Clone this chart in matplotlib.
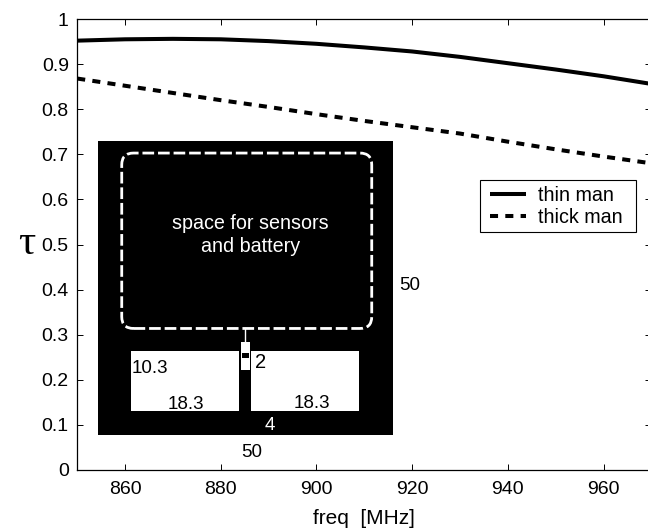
import numpy as np
from matplotlib import pyplot as plt
from matplotlib.patches import Rectangle, FancyBboxPatch

plt.rcParams['font.family'] = ['Liberation Sans', 'DejaVu Sans']

# curves
freq = [850, 860, 870, 880, 890, 900, 910, 920, 930, 940, 950, 960, 970]
thin_man = [0.952, 0.955, 0.956, 0.955, 0.951, 0.945, 0.937, 0.928, 0.916, 0.902, 0.888, 0.873, 0.856]
thick_man = [0.868, 0.852, 0.836, 0.820, 0.805, 0.789, 0.774, 0.760, 0.746, 0.728, 0.711, 0.695, 0.680]

x_ticks = [860, 880, 900, 920, 940, 960]
y_ticks = [0, 0.1, 0.2, 0.3, 0.4, 0.5, 0.6, 0.7, 0.8, 0.9, 1]
y_labels = ['0', '0.1', '0.2', '0.3', '0.4', '0.5', '0.6', '0.7', '0.8', '0.9', '1']

# antenna dimensions in the inset, mm
board_size = 50
slot_w = 18.3
slot_h = 10.3
slot_bottom = 4
slot_margin = 5.7
gap = 2

W, H = 648, 531
fig = plt.figure(figsize=(W / 100, H / 100), dpi=100)
# right edge of the axes runs just past the picture
ax = fig.add_axes([77.2 / W, (H - 470) / H, 574.2 / W, 451 / H])

ax.plot(freq, thin_man, color='black', lw=2.9, label='thin man', solid_capstyle='butt')
ax.plot(freq, thick_man, color='black', lw=2.9, ls=(0, (2.0, 1.8)), label='thick man', dash_capstyle='butt')

ax.set_xlim(850, 970)
ax.set_ylim(0, 1)
ax.set_xticks(x_ticks)
ax.set_yticks(y_ticks)
ax.set_yticklabels(y_labels)
ax.tick_params(direction='in', top=True, right=True, length=4.5, width=0.7, labelsize=14, pad=6)
ax.tick_params(axis='x', pad=8)
for s in ax.spines.values():
    s.set_linewidth(0.9)
ax.set_xlabel('freq  [MHz]', fontsize=15, labelpad=8)
fig.text(27 / W, 1 - 244 / H, 'τ', fontsize=31, family='Liberation Serif', ha='center', va='center')

# legend frame drawn on its own so the entries can sit further in
ax.add_patch(Rectangle((480 / W, 1 - 232 / H), 156 / W, 52 / H, transform=fig.transFigure,
                       fc='white', ec='black', lw=0.8, zorder=4))
leg = ax.legend(loc='lower left', bbox_to_anchor=(485.5 / W, 1 - 232 / H), bbox_transform=fig.transFigure,
                fontsize=14.2, frameon=False, borderaxespad=0, borderpad=0.25,
                labelspacing=0.15, handlelength=1.8, handletextpad=0.6)

# inset: antenna layout
ins = fig.add_axes([97.7 / W, (H - 435) / H, 295.3 / W, 294.3 / H])
ins.set_xlim(0, board_size)
ins.set_ylim(0, board_size)
ins.axis('off')
ins.add_patch(Rectangle((0, 0), board_size, board_size, color='black', lw=0))
ins.add_patch(Rectangle((slot_margin, slot_bottom), slot_w, slot_h, color='white', lw=0))
ins.add_patch(Rectangle((slot_margin + slot_w + gap, slot_bottom), slot_w, slot_h, color='white', lw=0))

ins.add_patch(FancyBboxPatch((4.07, 18.1), 42.33, 29.8, boxstyle='round,pad=0,rounding_size=2.0',
                             fc='none', ec='white', lw=2.0, ls=(0, (4.2, 1.4)), mutation_aspect=1))
ins.plot([25.0, 25.0], [15.6, 18.1], color='white', lw=1.0)
ins.add_patch(Rectangle((24.2, 11.1), 1.6, 4.7, color='white', lw=0))
ins.add_patch(Rectangle((24.5, 13.0), 1.1, 0.9, color='black', lw=0))

ins.text(25.8, 34.0, 'space for sensors\nand battery', color='white', fontsize=14.2, ha='center',
         va='center', linespacing=1.25)
ins.text(8.9, 11.3, '10.3', fontsize=13.5, ha='center', va='center')
ins.text(14.9, 5.2, '18.3', fontsize=13.5, ha='center', va='center')
ins.text(36.3, 5.4, '18.3', fontsize=13.5, ha='center', va='center')
ins.text(27.6, 12.3, '2', fontsize=14.5, ha='center', va='center')
ins.text(29.2, 1.6, '4', color='white', fontsize=13.5, ha='center', va='center')
ins.text(26.1, -2.9, '50', fontsize=13.5, ha='center', va='center', clip_on=False)
ins.text(52.9, 25.4, '50', fontsize=13.5, ha='center', va='center', clip_on=False)

plt.savefig('out.png', dpi=100)
